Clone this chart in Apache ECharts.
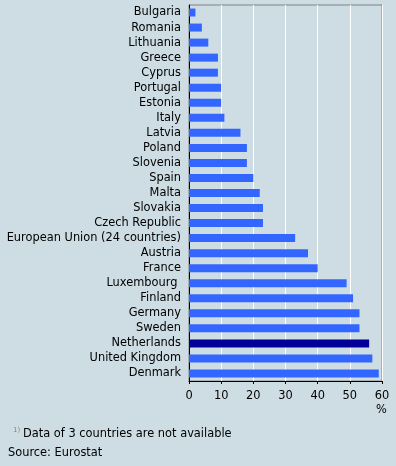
<!DOCTYPE html>
<html>
<head>
<meta charset="utf-8">
<script src="https://cdn.jsdelivr.net/npm/echarts@6/dist/echarts.min.js"></script>
<style>
  html, body { margin: 0; padding: 0; background: #cddde3; }
  #main { width: 396px; height: 466px; }
</style>
</head>
<body>
<div id="main"></div>
<script>
var countries = ['Bulgaria', 'Romania', 'Lithuania', 'Greece', 'Cyprus', 'Portugal', 'Estonia', 'Italy',
  'Latvia', 'Poland', 'Slovenia', 'Spain', 'Malta', 'Slovakia', 'Czech Republic',
  'European Union (24 countries)', 'Austria', 'France', 'Luxembourg ', 'Finland', 'Germany',
  'Sweden', 'Netherlands', 'United Kingdom', 'Denmark'];
var shares = [2, 4, 6, 9, 9, 10, 10, 11, 16, 18, 18, 20, 22, 23, 23, 33, 37, 40, 49, 51, 53, 53, 56, 57, 59];
var highlight = 'Netherlands';
var xTicks = [0, 10, 20, 30, 40, 50, 60];

var myChart = echarts.init(document.getElementById('main'));
var font = 'DejaVu Sans';
var fs = 11.4;

var option = {
    backgroundColor: '#cddde3',
    animation: false,
    grid: {
        left: 189, right: 14, top: 5, bottom: 85,
        show: true,
        borderColor: '#808080',
        borderWidth: 1
    },
    xAxis: {
        type: 'value',
        min: xTicks[0],
        max: xTicks[xTicks.length - 1],
        interval: 10,
        axisLine: { show: true, lineStyle: { color: '#000', width: 1 } },
        axisTick: { show: true, length: 3, lineStyle: { color: '#000' } },
        axisLabel: { color: '#000', fontFamily: font, fontSize: fs, margin: 10 },
        splitLine: { show: true, lineStyle: { color: '#ffffff', width: 1 } }
    },
    yAxis: {
        type: 'category',
        inverse: true,
        data: countries,
        axisLine: { show: true, lineStyle: { color: '#000', width: 1 } },
        axisTick: { show: false },
        axisLabel: { color: '#000', fontFamily: font, fontSize: fs, margin: 8 }
    },
    series: [{
        type: 'bar',
        barWidth: 8,
        data: shares.map(function (v, i) {
            return {
                value: v,
                itemStyle: { color: countries[i] === highlight ? '#000099' : '#3366ff' }
            };
        })
    }],
    graphic: [
        { type: 'text', left: 376, top: 405, style: { text: '%', fill: '#000', font: fs + 'px ' + font } },
        { type: 'text', left: 13, top: 427, style: { text: '1)', fill: '#888', font: '7px ' + font } },
        { type: 'text', left: 23, top: 429, style: { text: 'Data of 3 countries are not available', fill: '#000', font: fs + 'px ' + font } },
        { type: 'text', left: 8, top: 448, style: { text: 'Source: Eurostat', fill: '#000', font: fs + 'px ' + font } }
    ]
};

myChart.setOption(option);
window.onresize = myChart.resize;
</script>
</body>
</html>
